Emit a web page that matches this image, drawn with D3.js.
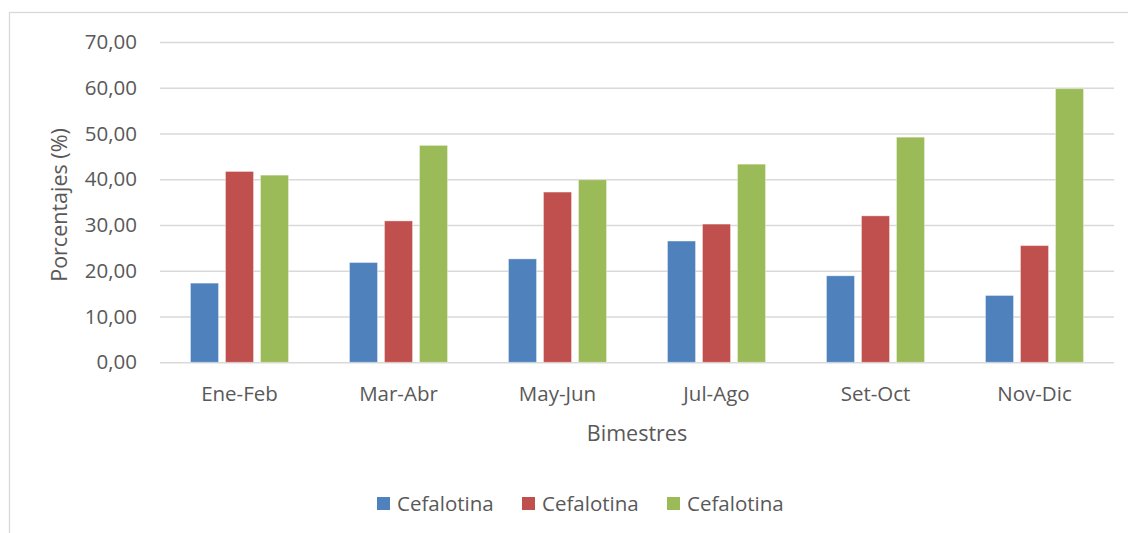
<!DOCTYPE html>
<html>
<head>
<meta charset="utf-8">
<script src="https://cdn.jsdelivr.net/npm/d3@7"></script>
<style>
  html, body { margin: 0; padding: 0; background: #fff; }
  svg { display: block; }
  text { font-family: "Open Sans", "Noto Sans", sans-serif; fill: #595959; }
</style>
</head>
<body>
<svg id="chart" width="1128" height="533"></svg>
<script>
// Bimonthly periods
const categories = ["Ene-Feb", "Mar-Abr", "May-Jun", "Jul-Ago", "Set-Oct", "Nov-Dic"];
// Series names (all three labelled identically in the legend)
const seriesNames = ["Cefalotina", "Cefalotina", "Cefalotina"];
// Percentages per series
const series1 = [17.3, 21.8, 22.6, 26.5, 18.9, 14.6];
const series2 = [41.7, 30.9, 37.2, 30.2, 32.0, 25.5];
const series3 = [40.9, 47.4, 39.9, 43.3, 49.2, 59.8];
const yTicks = [0, 10, 20, 30, 40, 50, 60, 70];
const colors = ["#4F81BD", "#C0504D", "#9BBB59"];

const allSeries = [series1, series2, series3];
const svg = d3.select("#chart");

// Outer chart border
svg.append("rect")
  .attr("x", 9.5).attr("y", 12.5)
  .attr("width", 1140).attr("height", 540)
  .attr("fill", "none").attr("stroke", "#d9d9d9").attr("stroke-width", 1.3);

const plot = { left: 160, right: 1114, top: 42, bottom: 362.3 };

const y = d3.scaleLinear().domain([0, 70]).range([plot.bottom, plot.top]);
const x0 = d3.scaleBand().domain(categories)
  .range([plot.left, plot.right]).paddingInner(0.3836).paddingOuter(0.1918);
const x1 = d3.scaleBand().domain(d3.range(allSeries.length))
  .range([0, x0.bandwidth()]).paddingInner(0.2).paddingOuter(0);

// Gridlines and value labels
const yAxis = d3.axisLeft(y).tickValues(yTicks)
  .tickSize(-(plot.right - plot.left))
  .tickFormat(d => d3.format(".2f")(d).replace(".", ","))
  .tickPadding(23);
const gy = svg.append("g").attr("transform", `translate(${plot.left},0)`).call(yAxis);
gy.select(".domain").remove();
gy.selectAll(".tick line").attr("stroke", "#d9d9d9").attr("stroke-width", 1.5);
gy.selectAll(".tick text").attr("font-size", 20.5).attr("fill", "#595959")
  .style("font-family", "'Open Sans', sans-serif");

// Bars
const groups = svg.append("g").selectAll("g")
  .data(categories).join("g")
  .attr("transform", d => `translate(${x0(d)},0)`);
groups.selectAll("rect")
  .data((c, i) => allSeries.map((s, k) => ({ k, v: s[i] })))
  .join("rect")
  .attr("x", d => x1(d.k))
  .attr("width", x1.bandwidth())
  .attr("y", d => y(d.v))
  .attr("height", d => y(0) - y(d.v))
  .attr("fill", d => colors[d.k])
  .attr("stroke", "rgba(255,255,255,0.35)")
  .attr("stroke-width", 1);

// Category labels
const xAxis = d3.axisBottom(x0).tickSize(0);
const gx = svg.append("g").attr("transform", `translate(0,${plot.bottom})`).call(xAxis);
gx.select(".domain").remove();
gx.selectAll(".tick text")
  .attr("y", 38.5).attr("dy", 0)
  .attr("font-size", 20.5).attr("fill", "#595959")
  .style("font-family", "'Open Sans', sans-serif");

// Axis titles
svg.append("text")
  .attr("x", (plot.left + plot.right) / 2).attr("y", 441)
  .attr("text-anchor", "middle").attr("font-size", 21.5)
  .text("Bimestres");
svg.append("text")
  .attr("transform", `translate(67,205) rotate(-90)`)
  .attr("text-anchor", "middle").attr("font-size", 21.5)
  .text("Porcentajes (%)");

// Legend
const legendX = [377, 522, 667];
const legend = svg.append("g").selectAll("g")
  .data(seriesNames).join("g")
  .attr("transform", (d, i) => `translate(${legendX[i]},497)`);
legend.append("rect").attr("width", 13).attr("height", 13)
  .attr("fill", (d, i) => colors[i]);
legend.append("text").attr("x", 20).attr("y", 14)
  .attr("font-size", 20.5).text(d => d);
</script>
</body>
</html>
